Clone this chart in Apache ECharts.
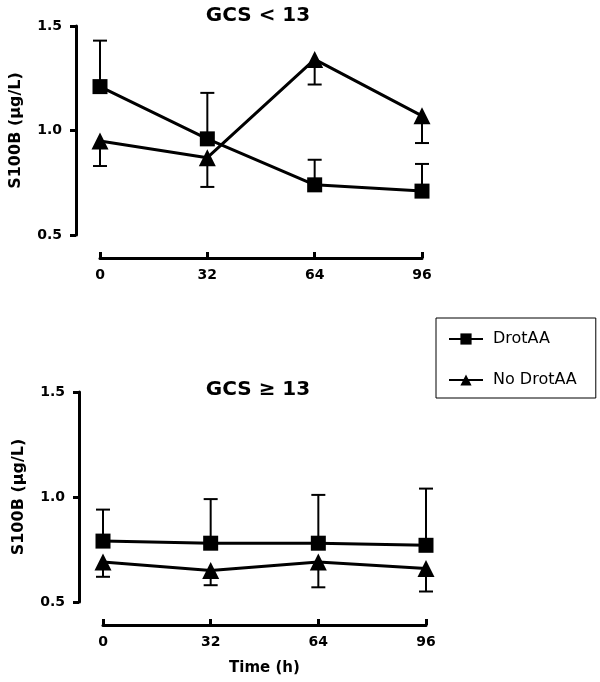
<!DOCTYPE html>
<html><head><meta charset="utf-8">
<script src="https://cdn.jsdelivr.net/npm/echarts@6/dist/echarts.min.js"></script>
<style>html,body{margin:0;padding:0;background:#fff}#c{width:600px;height:682px}</style>
</head><body><div id="c"></div>
<script>
const hours = [0, 32, 64, 96];
const seriesNames = ['DrotAA', 'No DrotAA'];
const panelTitles = ['GCS < 13', 'GCS \u2265 13'];
const yAxisTitle = 'S100B (\u03bcg/L)';
const xAxisTitle = 'Time (h)';
// top panel (GCS < 13)
const topDrot = [1.21, 0.96, 0.74, 0.71];
const topDrotErr = [1.43, 1.18, 0.86, 0.84];
const topNo = [0.95, 0.87, 1.34, 1.07];
const topNoErr = [0.83, 0.73, 1.22, 0.94];
// bottom panel (GCS >= 13)
const botDrot = [0.79, 0.78, 0.78, 0.77];
const botDrotErr = [0.94, 0.99, 1.01, 1.04];
const botNo = [0.69, 0.65, 0.69, 0.66];
const botNoErr = [0.62, 0.58, 0.57, 0.55];

const FONT = "'DejaVu Sans', sans-serif";
const chart = echarts.init(document.getElementById('c'));

function pts(vals) { return hours.map((h, i) => [h, vals[i]]); }
function errData(vals, ends) { return hours.map((h, i) => [h, vals[i], ends[i]]); }

function errSeries(idx, vals, ends) {
  return {
    type: 'custom', xAxisIndex: idx, yAxisIndex: idx, z: 1, silent: true,
    data: errData(vals, ends),
    renderItem: function (params, api) {
      const p0 = api.coord([api.value(0), api.value(1)]);
      const p1 = api.coord([api.value(0), api.value(2)]);
      const hw = 7;
      return {
        type: 'group',
        children: [
          { type: 'line', shape: { x1: p0[0], y1: p0[1], x2: p1[0], y2: p1[1] }, style: { stroke: '#000', lineWidth: 2 } },
          { type: 'line', shape: { x1: p1[0] - hw, y1: p1[1], x2: p1[0] + hw, y2: p1[1] }, style: { stroke: '#000', lineWidth: 2 } }
        ]
      };
    }
  };
}

function lineSeries(idx, name, vals, symbol) {
  return {
    type: 'line', name: name, xAxisIndex: idx, yAxisIndex: idx, z: 3,
    data: pts(vals), symbol: symbol, symbolSize: symbol === 'rect' ? 15 : 17,
    itemStyle: { color: '#000' }, lineStyle: { color: '#000', width: 3 },
    emphasis: { disabled: true }, animation: false
  };
}

function xAxis(idx, withName) {
  return {
    type: 'value', gridIndex: idx, min: 0, max: 96, interval: 32, offset: 23,
    axisLine: { show: true, onZero: false, lineStyle: { color: '#000', width: 3 } },
    axisTick: { show: true, inside: true, length: 6, lineStyle: { color: '#000', width: 3 } },
    axisLabel: { color: '#000', fontSize: 14, fontWeight: 'bold', fontFamily: FONT, margin: 10 },
    splitLine: { show: false },
    name: withName ? xAxisTitle : '', nameLocation: 'middle', nameGap: 36,
    nameTextStyle: { color: '#000', fontSize: 15, fontWeight: 'bold', fontFamily: FONT }
  };
}
function yAxis(idx) {
  return {
    type: 'value', gridIndex: idx, min: 0.5, max: 1.5, interval: 0.5, offset: 24,
    axisLine: { show: true, onZero: false, lineStyle: { color: '#000', width: 3 } },
    axisTick: { show: true, length: 6, lineStyle: { color: '#000', width: 3 } },
    axisLabel: { color: '#000', fontSize: 14, fontWeight: 'bold', fontFamily: FONT, margin: 14, formatter: v => v.toFixed(1) },
    splitLine: { show: false },
    name: yAxisTitle, nameLocation: 'middle', nameGap: 52,
    nameTextStyle: { color: '#000', fontSize: 16, fontWeight: 'bold', fontFamily: FONT }
  };
}

chart.setOption({
  animation: false,
  backgroundColor: '#fff',
  title: [
    { text: panelTitles[0], left: 258, top: 6, padding: 0, textAlign: 'center', textStyle: { color: '#000', fontSize: 20, fontWeight: 'bold', fontFamily: FONT } },
    { text: panelTitles[1], left: 258, top: 380, padding: 0, textAlign: 'center', textStyle: { color: '#000', fontSize: 20, fontWeight: 'bold', fontFamily: FONT } }
  ],
  legend: {
    data: seriesNames, orient: 'vertical', left: 436, top: 318,
    padding: [13, 19, 10, 12], itemGap: 25, itemWidth: 34, itemHeight: 14,
    borderColor: '#000', borderWidth: 1,
    textStyle: { color: '#000', fontSize: 16, fontFamily: FONT, padding: [0, 0, 0, 5] }
  },
  grid: [
    { left: 99, top: 26, width: 323, height: 209 },
    { left: 103, top: 392, width: 323, height: 210 }
  ],
  xAxis: [xAxis(0, false), xAxis(1, true)],
  yAxis: [yAxis(0), yAxis(1)],
  series: [
    errSeries(0, topDrot, topDrotErr),
    errSeries(0, topNo, topNoErr),
    errSeries(1, botDrot, botDrotErr),
    errSeries(1, botNo, botNoErr),
    lineSeries(0, seriesNames[0], topDrot, 'rect'),
    lineSeries(0, seriesNames[1], topNo, 'triangle'),
    lineSeries(1, seriesNames[0], botDrot, 'rect'),
    lineSeries(1, seriesNames[1], botNo, 'triangle')
  ]
});
</script></body></html>
